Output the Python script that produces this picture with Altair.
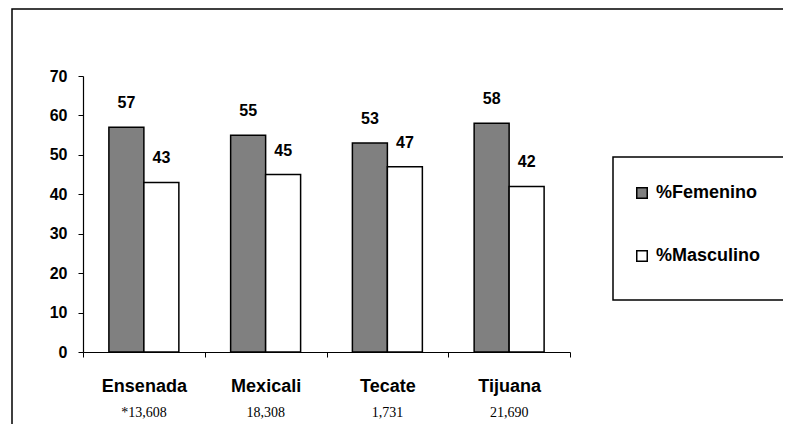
import altair as alt
import pandas as pd

cities = ["Ensenada", "Mexicali", "Tecate", "Tijuana"]
femenino = [57, 55, 53, 58]
masculino = [43, 45, 47, 42]
counts = ["*13,608", "18,308", "1,731", "21,690"]
series_names = ["%Femenino", "%Masculino"]
series_colors = ["#808080", "#ffffff"]
y_ticks = [0, 10, 20, 30, 40, 50, 60, 70]

rows = []
for c, f, m in zip(cities, femenino, masculino):
    rows.append({"city": c, "series": series_names[0], "value": f})
    rows.append({"city": c, "series": series_names[1], "value": m})
df = pd.DataFrame(rows)
df_counts = pd.DataFrame({"city": cities, "count": counts})

FONT = "Liberation Sans"

x_enc = alt.X(
    "city:N",
    sort=cities,
    scale=alt.Scale(paddingInner=0, paddingOuter=0),
    axis=alt.Axis(
        title=None, labelAngle=0, tickBand="extent", tickSize=5, tickColor="black",
        domainColor="black", domainWidth=1.2, labelFontSize=18, labelFontWeight="bold",
        labelColor="black", labelPadding=20, labelFont=FONT,
    ),
)
y_enc = alt.Y(
    "value:Q",
    scale=alt.Scale(domain=[0, 70]),
    axis=alt.Axis(
        title=None, values=y_ticks, labelOverlap=False, tickSize=5,
        tickColor="black", domainColor="black", domainWidth=1.2, labelFontSize=16,
        labelFontWeight="bold", labelColor="black", labelPadding=11, grid=False,
        labelFont=FONT,
    ),
)
xoff = alt.XOffset("series:N", sort=series_names,
                   scale=alt.Scale(paddingInner=0, paddingOuter=0.74))

bars = alt.Chart(df).mark_bar(stroke="black", strokeWidth=1.5).encode(
    x=x_enc,
    xOffset=xoff,
    y=y_enc,
    fill=alt.Fill(
        "series:N",
        sort=series_names,
        scale=alt.Scale(domain=series_names, range=series_colors),
        legend=alt.Legend(
            title=None, orient="none", legendX=550, legendY=108, symbolType="square",
            symbolSize=110, symbolStrokeColor="black", symbolStrokeWidth=1.5,
            labelFontSize=18, labelFontWeight="bold", labelFont=FONT, labelColor="black",
            rowPadding=45, labelOffset=5, padding=0,
        ),
    ),
)

labels = alt.Chart(df).mark_text(
    fontSize=16, fontWeight="bold", font=FONT, color="black", baseline="middle", dy=-24
).encode(x=x_enc, xOffset=xoff, y=y_enc, text="value:Q")

count_text = alt.Chart(df_counts).mark_text(
    fontSize=14, font="Liberation Serif", color="black", baseline="middle"
).encode(x=x_enc, y=alt.value(337), text="count:N")

frame = alt.Chart(alt.Data(values=[{}])).mark_rect(
    fill=None, stroke="black", strokeWidth=1.5
).encode(x=alt.value(-71), x2=alt.value(780), y=alt.value(-67), y2=alt.value(500))

legend_box = alt.Chart(alt.Data(values=[{}])).mark_rect(
    fill="white", stroke="black", strokeWidth=1.5
).encode(x=alt.value(530), x2=alt.value(706), y=alt.value(81), y2=alt.value(224))

chart = alt.layer(frame, legend_box, bars, labels, count_text).properties(
    width=487,
    height=276,
    padding={"left": 75, "top": 68, "right": 213, "bottom": 72},
    autosize=alt.AutoSizeParams(type="none"),
).configure_view(stroke=None)

chart.save("out.html", embed_options={"renderer": "svg", "actions": False})
